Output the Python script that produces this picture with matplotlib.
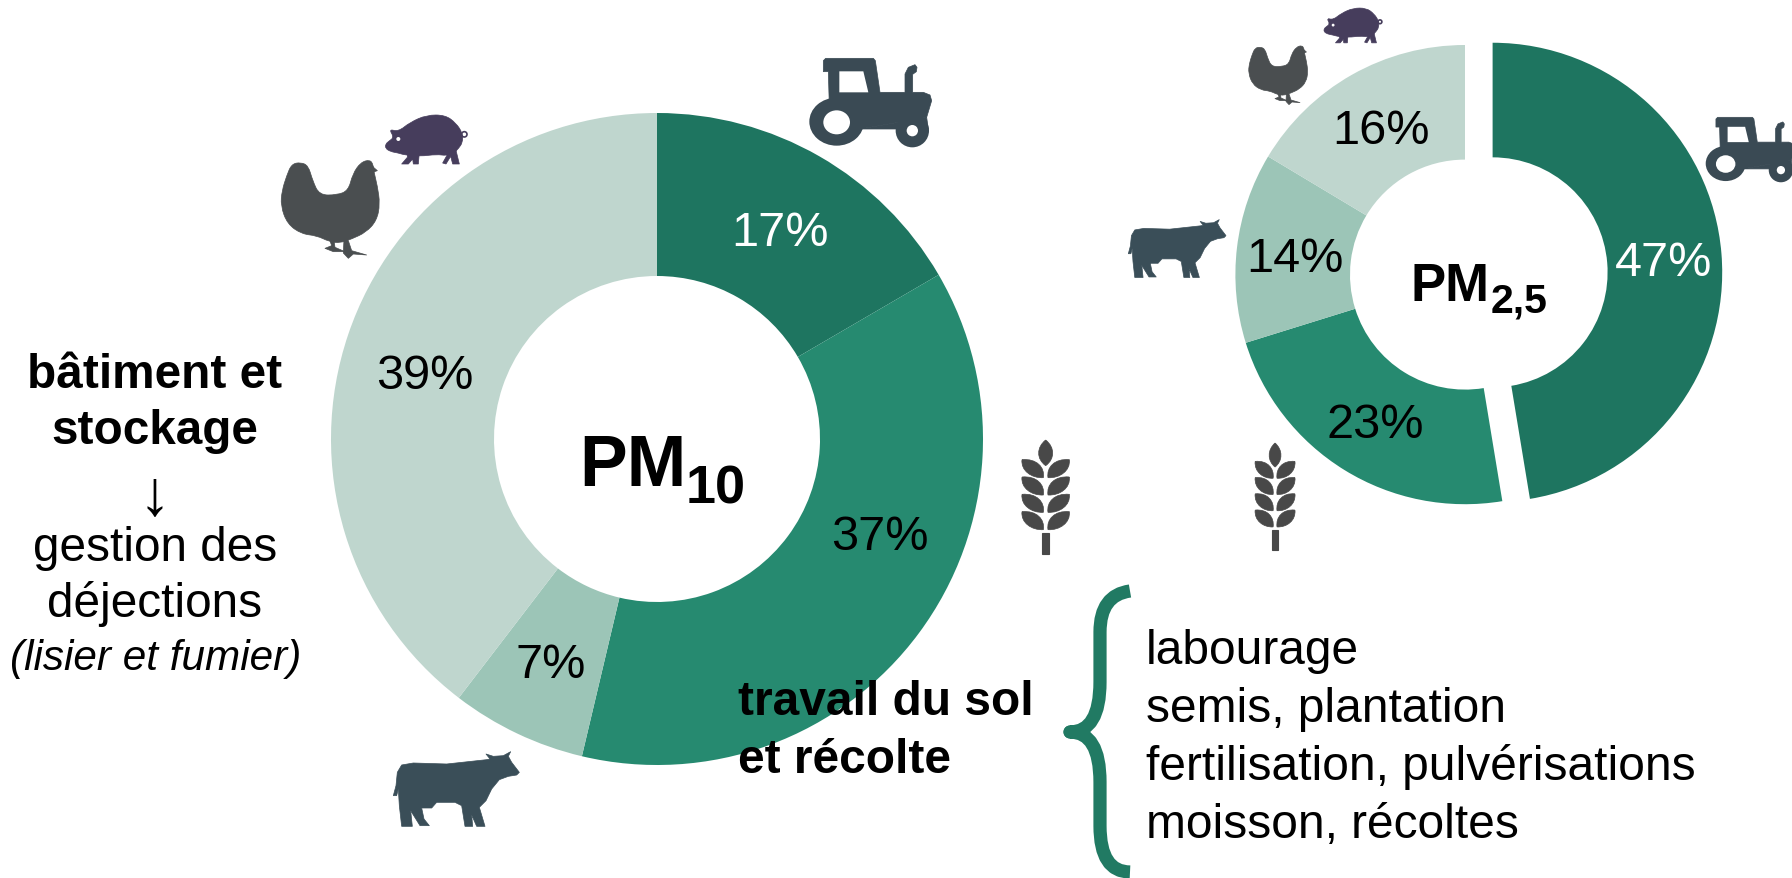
import matplotlib
matplotlib.use("Agg")
import matplotlib.pyplot as plt
from matplotlib.patches import Circle, Ellipse, PathPatch, Polygon
from matplotlib.path import Path

plt.rcParams["font.family"] = ["Liberation Sans", "DejaVu Sans"]

# share of each source, read from the slice boundaries
pm10_values = [16.6, 37.1, 6.7, 39.6]
pm10_labels = ["17%", "37%", "7%", "39%"]
pm25_values = [47.4, 22.8, 13.4, 16.4]
pm25_labels = ["47%", "23%", "14%", "16%"]
pm25_explode = [27.7, 0, 0, 0]  # pie() takes this in data units
slice_colors = ["#1E7560", "#268A70", "#9CC5B7", "#BFD6CE"]
label_colors = ["white", "black", "black", "black"]

practices = ["labourage", "semis, plantation", "fertilisation, pulvérisations", "moisson, récoltes"]

# icon outlines (3x zoom pixels)
PIG = [(347, 135), (356, 127), (372, 115), (357, 90), (385, 98), (420, 70), (470, 48), (525, 48), (558, 72),
       (578, 103), (578, 130), (566, 148), (552, 162), (530, 170), (500, 166), (450, 172), (404, 168),
       (385, 162), (362, 158), (346, 148)]
PIG_LEGS = [[(535, 150), (557, 150), (568, 195), (548, 195), (542, 172), (528, 195), (518, 192), (533, 165)],
            [(412, 160), (448, 160), (445, 195), (430, 195), (428, 180), (415, 195), (395, 195), (412, 175)]]
CHICKEN = [(92, 190), (115, 200), (128, 245), (148, 288), (200, 288), (235, 275), (248, 225), (272, 190), (300, 182),
           (310, 198), (312, 220), (322, 260), (330, 315), (320, 365), (288, 400), (245, 420), (210, 432), (178, 428),
           (140, 410), (95, 405), (52, 375), (32, 320), (36, 275), (50, 230), (65, 195)]
CHICKEN_BITS = [[(305, 200), (322, 215), (308, 220)],
                [(222, 420), (235, 425), (245, 455), (290, 468), (250, 465), (235, 478), (220, 462)],
                [(178, 420), (192, 425), (195, 445), (225, 458), (190, 458), (165, 448), (185, 440)]]
COW = [(40, 170), (48, 140), (52, 100), (65, 78), (100, 72), (200, 75), (320, 62), (330, 60), (318, 45), (340, 52),
       (370, 50), (392, 38), (385, 52), (395, 70), (418, 100), (410, 108), (385, 112), (358, 122), (335, 150),
       (318, 185), (298, 205), (315, 262), (290, 262), (275, 228), (278, 262), (255, 262), (245, 200), (225, 190),
       (170, 190), (155, 207), (125, 207), (132, 240), (148, 260), (120, 260), (100, 228), (92, 215), (97, 262),
       (65, 262), (58, 200), (55, 150), (50, 170)]
TRACTOR = [(130, 95), (137, 88), (280, 88), (286, 95), (300, 190), (375, 190), (375, 135), (385, 115), (405, 107),
           (411, 115), (409, 128), (398, 136), (398, 190), (430, 190), (450, 198), (455, 215), (440, 265), (240, 300),
           (150, 300), (145, 128), (130, 128)]


def to_px(pts, org, sx, sy):
    return [(org[0] + x * sx / 3, org[1] + y * sy / 3) for x, y in pts]


def draw_shape(ax, pts, org, scale, color):
    ax.add_patch(Polygon(to_px(pts, org, scale, scale), closed=True, fc=color, ec=color, lw=0.5, joinstyle="round"))


def draw_smooth(ax, pts, org, scale, color):
    # quadratic curves between edge midpoints, the traced vertices act as control points
    px = to_px(pts, org, scale, scale)
    n = len(px)
    mids = [((px[i][0] + px[(i + 1) % n][0]) / 2, (px[i][1] + px[(i + 1) % n][1]) / 2) for i in range(n)]
    verts = [mids[-1]]
    codes = [Path.MOVETO]
    for i in range(n):
        verts += [px[i], mids[i]]
        codes += [Path.CURVE3, Path.CURVE3]
    ax.add_patch(PathPatch(Path(verts, codes), fc=color, ec=color, lw=0.5))


def draw_pig(ax, org, scale, color="#463D5C"):
    draw_smooth(ax, PIG, org, scale, color)
    for leg in PIG_LEGS:
        draw_shape(ax, leg, org, scale, color)
    s = scale / 3
    ax.add_patch(Circle((org[0] + 385 * s, org[1] + 120 * s), 6 * s, fc="white", ec="none"))
    ax.add_patch(Circle((org[0] + 583 * s, org[1] + 106 * s), 8 * s, fc="none", ec=color, lw=1.2))


def draw_chicken(ax, org, scale, color="#4A4E50"):
    draw_smooth(ax, CHICKEN, org, scale, color)
    for bit in CHICKEN_BITS:
        draw_shape(ax, bit, org, scale, color)


def draw_tractor(ax, org, scale, color="#3A4A54"):
    s = scale / 3
    draw_shape(ax, TRACTOR, org, scale, color)
    ax.add_patch(Polygon(to_px([(240, 300), (440, 265), (445, 300), (350, 300)], org, scale, scale), fc=color, ec=color, lw=0.5))
    ax.add_patch(Ellipse((org[0] + 170 * s, org[1] + 278 * s), 164 * s, 144 * s, fc=color, ec="none"))
    ax.add_patch(Circle((org[0] + 397 * s, org[1] + 305 * s), 50 * s, fc=color, ec="none"))
    ax.add_patch(Ellipse((org[0] + 170 * s, org[1] + 280 * s), 80 * s, 72 * s, fc="white", ec="none"))
    ax.add_patch(Circle((org[0] + 397 * s, org[1] + 305 * s), 17 * s, fc="white", ec="none"))
    ax.add_patch(Polygon(to_px([(178, 127), (250, 127), (265, 190), (178, 190)], org, scale, scale), fc="white", ec="none"))


def draw_wheat(ax, org, sx, sy, color="#484848"):
    def leaf(a, c1, c2, b, c3, c4):
        pts = to_px([a, c1, c2, b, c3, c4, a], org, sx, sy)
        codes = [Path.MOVETO] + [Path.CURVE4] * 6
        ax.add_patch(PathPatch(Path(pts, codes), fc=color, ec=color, lw=0.5))

    leaf((137, 33), (165, 55), (165, 90), (137, 110), (109, 90), (109, 55))
    for dy in [0, 52, 104, 156]:
        leaf((66, 92 + dy), (110, 88 + dy), (135, 115 + dy), (130, 146 + dy), (95, 148 + dy), (62, 125 + dy))
        leaf((208, 92 + dy), (164, 88 + dy), (139, 115 + dy), (144, 146 + dy), (179, 148 + dy), (212, 125 + dy))
    ax.add_patch(Polygon(to_px([(125, 312), (148, 312), (148, 375), (125, 375)], org, sx, sy), fc=color, ec=color, lw=0.8))


fig = plt.figure(figsize=(17.92, 8.79), dpi=100)
ax = fig.add_axes([0, 0, 1, 1])

# PM10 donut
ax.pie(pm10_values, colors=slice_colors, center=(657, 440), radius=326, startangle=-90, counterclock=True,
       wedgeprops=dict(width=163, linewidth=0), frame=True)
# PM2.5 donut, first slice pulled out
ax.pie(pm25_values, colors=slice_colors, explode=pm25_explode, center=(1465, 275.6), radius=229.6, startangle=-90,
       counterclock=True, wedgeprops=dict(width=114.6, linewidth=0), frame=True)

ax.set_xlim(0, 1792)
ax.set_ylim(879, 0)
ax.set_aspect("equal")
ax.axis("off")

pm10_pos = [(780, 234), (880, 538), (551, 666), (425, 377)]
for lab, (x, y), c in zip(pm10_labels, pm10_pos, label_colors):
    ax.text(x, y, lab, fontsize=35, color=c, ha="center", va="center")
pm25_pos = [(1664, 264), (1375, 426), (1295, 260), (1381, 132)]
for lab, (x, y), c in zip(pm25_labels, pm25_pos, label_colors):
    ax.text(x, y, lab, fontsize=35, color=c, ha="center", va="center")

# centre titles
ax.text(579, 486, "PM", fontsize=51.5, fontweight="bold", va="baseline")
ax.text(686, 504, "10", fontsize=39, fontweight="bold", va="baseline")
ax.text(1411, 301, "PM", fontsize=38, fontweight="bold", va="baseline")
ax.text(1491, 313, "2,5", fontsize=29.5, fontweight="bold", va="baseline")

# left block
ax.text(155, 388, "bâtiment et", fontsize=34.4, fontweight="bold", ha="center", va="baseline")
ax.text(155, 444, "stockage", fontsize=34.4, fontweight="bold", ha="center", va="baseline")
ax.text(155, 514, "↓", fontsize=46, ha="center", va="baseline")
ax.text(155, 561, "gestion des", fontsize=34.4, ha="center", va="baseline")
ax.text(155, 617, "déjections", fontsize=34.4, ha="center", va="baseline")
ax.text(156, 670, "(lisier et fumier)", fontsize=30.4, fontstyle="italic", ha="center", va="baseline")

# right block
ax.text(738, 715, "travail du sol", fontsize=34.5, fontweight="bold", va="baseline")
ax.text(738, 773, "et récolte", fontsize=34.5, fontweight="bold", va="baseline")
for txt, y in zip(practices, [664, 722, 780, 838]):
    ax.text(1146, y, txt, fontsize=34.5, va="baseline")

# brace
brace_verts = [(1130, 592), (1100, 596), (1100, 633), (1100, 683), (1100, 733), (1070, 733),
               (1100, 733), (1100, 783), (1100, 827), (1100, 873), (1130, 873)]
brace_codes = [Path.MOVETO, Path.CURVE3, Path.CURVE3, Path.LINETO, Path.CURVE3, Path.CURVE3,
               Path.CURVE3, Path.CURVE3, Path.LINETO, Path.CURVE3, Path.CURVE3]
ax.add_patch(PathPatch(Path(brace_verts, brace_codes), fc="none", ec="#217A63", lw=9.5, capstyle="butt", joinstyle="round"))
ax.add_patch(Circle((1070, 733), 6.5, fc="#217A63", ec="none"))

# icons, left chart
draw_tractor(ax, (780, 30), 1)
draw_pig(ax, (270, 100), 1)
draw_chicken(ax, (270, 100), 1)
draw_shape(ax, COW, (380, 740), 1, "#3A4E58")
draw_wheat(ax, (1000, 430), 1, 1)

# icons, right chart
draw_tractor(ax, (1684.3, 96.9), 0.73)
draw_pig(ax, (1242, -2.3), 0.71)
draw_chicken(ax, (1242, 10), 0.6)
draw_shape(ax, COW, (1118, 210.8), 0.775, "#3A4E58")
draw_wheat(ax, (1236.7, 433.7), 0.84, 0.936)

fig.savefig("out.png", dpi=100)
